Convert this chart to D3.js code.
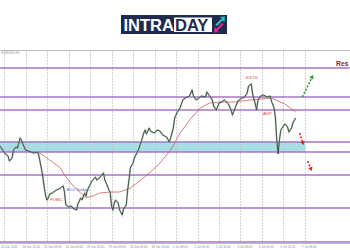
<!DOCTYPE html>
<html>
<head>
<meta charset="utf-8">
<script src="https://cdn.jsdelivr.net/npm/d3@7"></script>
<style>
  html, body { margin: 0; padding: 0; background: #fff; }
  svg { display: block; font-family: 'Liberation Sans', Arial, sans-serif; }
</style>
</head>
<body>
<svg id="chart" width="350" height="250"></svg>
<script>
// bar index (H1) on x, price on y
var gridBars = [3, 19, 35, 51, 67, 83, 99, 115, 131, 147, 163, 179, 195, 211, 227];
var gridLabels = ['24 Jun 2020', '24 Jun 16:00', '25 Jun 08:00', '26 Jun 00:00', '26 Jun 16:00',
  '29 Jun 08:00', '30 Jun 00:00', '30 Jun 16:00', '1 Jul 08:00', '2 Jul 00:00',
  '2 Jul 16:00', '3 Jul 08:00', '6 Jul 00:00', '6 Jul 16:00', '7 Jul 08:00'];
var levels = [1.1374, 1.1345, 1.1332, 1.1300, 1.1290, 1.1267, 1.1234, 1.1200];
var zone = [1.1290, 1.1300];

var priceBars = [0, 2, 4, 6, 7, 9, 10, 12, 13, 15, 16, 17, 19, 21, 23, 25, 28, 29, 30, 31,
  32, 33, 34, 35, 36, 37, 39, 42, 44, 45, 47, 48, 49, 51, 53, 55, 57, 58, 60, 61,
  63, 64, 65, 67, 68, 71, 72, 74, 77, 78, 80, 81, 82, 83, 84, 85, 86, 88, 89, 91,
  92, 94, 95, 96, 97, 99, 100, 103, 104, 106, 107, 108, 109, 111, 112, 115, 117, 119, 121, 124,
  126, 127, 129, 130, 132, 134, 136, 138, 141, 143, 144, 146, 148, 150, 153, 154, 156, 158, 159, 161,
  163, 165, 167, 170, 172, 173, 175, 177, 179, 182, 184, 185, 187, 188, 190, 191, 192, 194, 196, 199,
  201, 202, 204, 205, 206, 207, 208, 209, 211, 212, 214, 215, 217, 218, 220];
var closes = [1.1296, 1.1292, 1.1288, 1.1286, 1.1281, 1.1284, 1.1292, 1.1295, 1.1294, 1.1304,
  1.1302, 1.1298, 1.1292, 1.1291, 1.1290, 1.1289, 1.1290, 1.1286, 1.1279, 1.1272,
  1.1264, 1.1254, 1.1246, 1.1242, 1.1244, 1.1248, 1.1249, 1.1252, 1.1253, 1.1254,
  1.1256, 1.1250, 1.1237, 1.1235, 1.1236, 1.1233, 1.1232, 1.1238, 1.1244, 1.1242,
  1.1249, 1.1246, 1.1252, 1.1257, 1.1260, 1.1265, 1.1262, 1.1264, 1.1269, 1.1262,
  1.1256, 1.1252, 1.1250, 1.1236, 1.1232, 1.1239, 1.1242, 1.1239, 1.1232, 1.1227,
  1.1233, 1.1237, 1.1252, 1.1262, 1.1274, 1.1279, 1.1284, 1.1292, 1.1296, 1.1304,
  1.1309, 1.1312, 1.1308, 1.1314, 1.1311, 1.1309, 1.1312, 1.1311, 1.1307, 1.1305,
  1.1300, 1.1304, 1.1314, 1.1324, 1.1330, 1.1334, 1.1342, 1.1344, 1.1346, 1.1352,
  1.1346, 1.1342, 1.1344, 1.1346, 1.1345, 1.1350, 1.1346, 1.1342, 1.1336, 1.1332,
  1.1339, 1.1340, 1.1342, 1.1338, 1.1332, 1.1327, 1.1334, 1.1341, 1.1343, 1.1345,
  1.1349, 1.1356, 1.1358, 1.1348, 1.1338, 1.1332, 1.1342, 1.1346, 1.1347, 1.1345,
  1.1346, 1.1341, 1.1334, 1.1324, 1.1302, 1.1288, 1.1302, 1.1312, 1.1316, 1.1318,
  1.1315, 1.1310, 1.1314, 1.1319, 1.1324];

var maBars = [28, 33, 37, 41, 45, 48, 52, 56, 60, 63, 67, 71, 74, 82, 89, 93, 97, 104, 112, 119,
  127, 130, 134, 138, 141, 145, 149, 156, 164, 175, 186, 194, 202, 212, 220];
var maValues = [1.1290, 1.1286, 1.1282, 1.1278, 1.1274, 1.1267, 1.1260, 1.1254, 1.1249, 1.1245,
  1.1245, 1.1247, 1.1249, 1.1250, 1.1250, 1.1252, 1.1254, 1.1261, 1.1270, 1.1279,
  1.1292, 1.1299, 1.1309, 1.1316, 1.1322, 1.1328, 1.1334, 1.1339, 1.1340, 1.1340,
  1.1342, 1.1343, 1.1344, 1.1338, 1.1330];

var eventNames = ['FOMC', 'BOJ Tankan', 'JOLTS', 'ADP'];
var eventBars = [42, 58, 187, 199];
var eventPrices = [1.1241, 1.1251, 1.1363, 1.1327];
var eventColors = ['#d43a3a', '#4a5ccc', '#d43a3a', '#d43a3a'];

// projected scenarios: [fromBar, fromPrice, toBar, toPrice]
var arrowsUp = [[225, 1.1345, 233, 1.1367]];
var arrowsDown = [[223, 1.1309, 226, 1.1297], [229, 1.1281, 232, 1.1271]];

var svg = d3.select('#chart');
var x = d3.scaleLinear().domain([0, 260.5]).range([0, 350]);
var y = d3.scaleLinear().domain([1.1199, 1.1392]).range([243, 50]);

// logo
var logo = svg.append('g');
logo.append('rect').attr('x', 121).attr('y', 15).attr('width', 106).attr('height', 19)
  .attr('fill', '#1e2a4e');
logo.append('rect').attr('x', 174).attr('y', 17.5).attr('width', 38).attr('height', 14.5)
  .attr('fill', '#fff');
logo.append('text').attr('x', 123.5).attr('y', 30.5).attr('fill', '#fff')
  .style('font-size', '16.5px').style('font-weight', 'bold').text('INTRA');
logo.append('text').attr('x', 175).attr('y', 30.5).attr('fill', '#1e2a4e')
  .style('font-size', '16.5px').style('font-weight', 'bold').text('DAY');
logo.append('polygon').attr('points', '215,25 222,18 219,17 225,16.5 224.5,22 222.5,20.5 217,26')
  .attr('fill', '#29c2c0');
logo.append('polygon').attr('points', '224,24 217,31 220,32 214,32.5 214.5,27 216.5,28.5 222,23')
  .attr('fill', '#e3268c');

// frame
svg.append('line').attr('x1', 0).attr('x2', 350).attr('y1', 50.5).attr('y2', 50.5)
  .attr('stroke', '#bdbdbd').attr('stroke-width', 1);
svg.append('line').attr('x1', 0).attr('x2', 350).attr('y1', 243.5).attr('y2', 243.5)
  .attr('stroke', '#bdbdbd').attr('stroke-width', 1);
svg.append('text').attr('x', 1.5).attr('y', 54).attr('fill', '#999')
  .style('font-size', '3.2px').text('EURUSD,H1');

// support zone
svg.append('rect')
  .attr('x', x(0)).attr('width', x(gridBars[gridBars.length - 1]) - x(0))
  .attr('y', y(zone[1])).attr('height', y(zone[0]) - y(zone[1]))
  .attr('fill', '#a9dde6');

// vertical grid
svg.selectAll('.vgrid').data(gridBars).enter().append('line')
  .attr('class', 'vgrid')
  .attr('x1', function(d) { return Math.round(x(d)) + 0.5; })
  .attr('x2', function(d) { return Math.round(x(d)) + 0.5; })
  .attr('y1', 51).attr('y2', 243)
  .attr('stroke', '#c6c6c6').attr('stroke-width', 0.8)
  .attr('stroke-dasharray', '2,1');

svg.selectAll('.xlab').data(gridBars).enter().append('text')
  .attr('class', 'xlab')
  .attr('x', function(d) { return x(d) - 3; })
  .attr('y', 248)
  .attr('fill', '#8a8a8a')
  .style('font-size', '3px')
  .text(function(d, i) { return gridLabels[i]; });

// horizontal levels
svg.selectAll('.level').data(levels).enter().append('line')
  .attr('class', 'level')
  .attr('x1', 0).attr('x2', 350)
  .attr('y1', function(d) { return y(d); })
  .attr('y2', function(d) { return y(d); })
  .attr('stroke', '#a575c8').attr('stroke-width', 1.3);

// moving average
var ma = maBars.map(function(b, i) { return [b, maValues[i]]; });
svg.append('path').datum(ma)
  .attr('fill', 'none').attr('stroke', '#d25a5a').attr('stroke-width', 0.8)
  .attr('d', d3.line().x(function(d) { return x(d[0]); }).y(function(d) { return y(d[1]); }));

// price
var px = priceBars.map(function(b, i) { return [b, closes[i]]; });
var line = d3.line().x(function(d) { return x(d[0]); }).y(function(d) { return y(d[1]); });
svg.append('path').datum(px)
  .attr('fill', 'none').attr('stroke', '#8fb08f').attr('stroke-width', 1.9)
  .attr('stroke-linejoin', 'miter').attr('opacity', 0.6).attr('d', line);
svg.append('path').datum(px)
  .attr('fill', 'none').attr('stroke', '#38463c').attr('stroke-width', 0.9)
  .attr('stroke-linejoin', 'miter').attr('d', line);

// event labels
svg.selectAll('.event').data(eventNames).enter().append('text')
  .attr('class', 'event')
  .attr('x', function(d, i) { return x(eventBars[i]); })
  .attr('y', function(d, i) { return y(eventPrices[i]); })
  .attr('text-anchor', 'middle')
  .attr('fill', function(d, i) { return eventColors[i]; })
  .style('font-size', '4.2px')
  .text(function(d) { return d; });

// scenario arrows
function arrow(a, color) {
  var x1 = x(a[0]), y1 = y(a[1]), x2 = x(a[2]), y2 = y(a[3]);
  var ang = Math.atan2(y2 - y1, x2 - x1);
  svg.append('line')
    .attr('x1', x1).attr('y1', y1)
    .attr('x2', x2 - 2.5 * Math.cos(ang)).attr('y2', y2 - 2.5 * Math.sin(ang))
    .attr('stroke', color).attr('stroke-width', 1.6)
    .attr('stroke-dasharray', '2,1.6');
  var h = 3.8, w = 2.4;
  var pts = [
    [x2, y2],
    [x2 - h * Math.cos(ang) + w * Math.sin(ang), y2 - h * Math.sin(ang) - w * Math.cos(ang)],
    [x2 - h * Math.cos(ang) - w * Math.sin(ang), y2 - h * Math.sin(ang) + w * Math.cos(ang)]
  ];
  svg.append('polygon').attr('points', pts.map(function(p) { return p.join(','); }).join(' '))
    .attr('fill', color);
}
arrowsUp.forEach(function(a) { arrow(a, '#2f9a35'); });
arrowsDown.forEach(function(a) { arrow(a, '#e02525'); });

svg.append('text').attr('x', 348.5).attr('y', y(1.1376))
  .attr('text-anchor', 'end')
  .attr('fill', '#9b1c1c').style('font-size', '6.8px').style('font-weight', 'bold')
  .text('Res');
</script>
</body>
</html>
